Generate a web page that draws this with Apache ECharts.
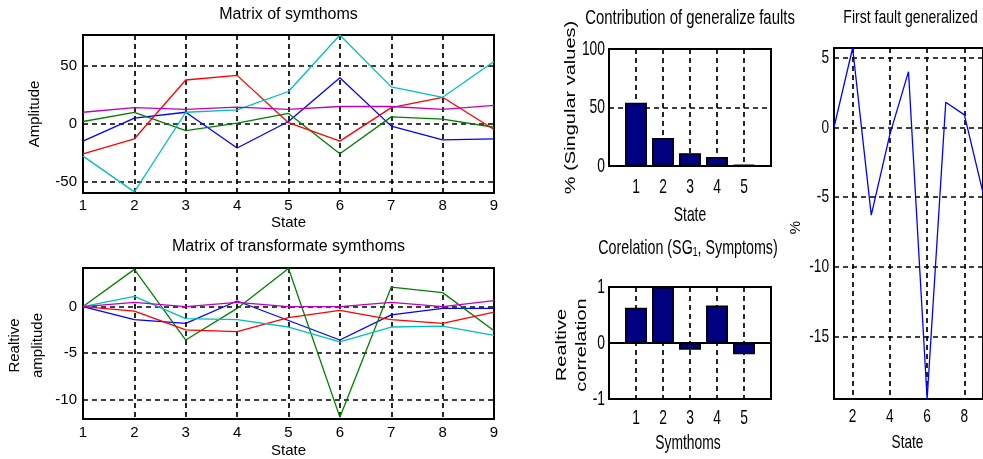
<!DOCTYPE html>
<html><head><meta charset="utf-8">
<script src="https://cdn.jsdelivr.net/npm/echarts@6/dist/echarts.min.js"></script>
<style>html,body{margin:0;padding:0;background:#fff}#c{width:983px;height:459px}</style>
</head><body><div id="c"></div>
<script>
// ---- data ----
const states = [1, 2, 3, 4, 5, 6, 7, 8, 9];
const symBlue    = [-15, 5, 10, -21, 2, 40, -2, -14, -13];
const symGreen   = [2, 10, -6, 0.5, 9, -26, 6, 4, -3];
const symRed     = [-26, -13, 38, 42, 1, -15, 14, 23, -5];
const symCyan    = [-28, -59, 10, 12, 28, 77, 32, 23, 54];
const symMagenta = [10, 14, 12.5, 14.5, 12.5, 15, 15, 12.5, 16];

const trBlue    = [0, -1.4, -1.8, 0.6, -1.5, -3.6, -0.9, -0.2, -0.2];
const trGreen   = [0, 4.0, -3.6, -0.2, 4.1, -11.9, 2.1, 1.5, -2.6];
const trRed     = [0, -0.5, -2.5, -2.7, -1.2, -0.4, -1.4, -1.8, -0.6];
const trCyan    = [0, 1.1, -1.3, -1.4, -2.2, -3.8, -2.2, -2.1, -3.1];
const trMagenta = [0, 0.45, 0, 0.45, 0, 0, 0.45, 0, 0.65];

const barIdx = [1, 2, 3, 4, 5];
const contribution = [54, 24, 11, 7.7, 1.2];
const correlation = [0.63, 1.0, -0.12, 0.67, -0.2];
const firstFault = [0, 5.7, -6.3, -0.5, 4.0, -19.5, 1.8, 0.9, -4.7];

const ticks1Y = [-50, 0, 50];
const ticks2Y = [-10, -5, 0];
const ticks3Y = [0, 50, 100];
const ticks4Y = [-1, 0, 1];
const ticks5Y = [-15, -10, -5, 0, 5];
const ticks5X = [2, 4, 6, 8];

const titles = ['Matrix of symthoms', 'Matrix of transformate symthoms', 'Contribution of generalize faults', 'Corelation (SG\u2081, Symptoms)', 'First fault generalized'];

// ---- layout / style ----
const FONT = '"Liberation Sans", Arial, sans-serif';
const G = [
  {left: 83, top: 35, width: 411, height: 158},
  {left: 83, top: 268, width: 411, height: 151},
  {left: 609, top: 49, width: 162, height: 117},
  {left: 609, top: 287, width: 162, height: 112},
  {left: 834, top: 48, width: 153, height: 351}
];
const dashed = {show: true, lineStyle: {color: '#000', width: 1.7, type: [5, 4]}};
const pair = (xs, ys) => xs.map((x, i) => [x, ys[i]]);
const lbl = {fontSize: 15, fontFamily: FONT, color: '#000'};

function line(ax, ys, color) {
  return {type: 'line', xAxisIndex: ax, yAxisIndex: ax, data: pair(states, ys), showSymbol: false,
    lineStyle: {color, width: 1.3}, itemStyle: {color}, animation: false};
}
function bar(ax, ys) {
  return {type: 'bar', xAxisIndex: ax, yAxisIndex: ax, data: pair(barIdx, ys), barWidth: 22,
    itemStyle: {color: '#000080', borderColor: '#000', borderWidth: 1.5}, animation: false};
}
const C = {b: '#0000ff', g: '#008000', r: '#ff0000', c: '#00bfbf', m: '#bf00bf'};
const noLine = {show: false};

const option = {
  animation: false,
  grid: G.map(g => Object.assign({show: true, borderColor: '#000', borderWidth: 2, backgroundColor: '#fff'}, g)),
  xAxis: [
    {gridIndex: 0, type: 'value', min: 1, max: 9, interval: 1, axisLine: noLine, axisTick: {show: false}, splitLine: dashed, axisLabel: Object.assign({margin: 5}, lbl)},
    {gridIndex: 1, type: 'value', min: 1, max: 9, interval: 1, axisLine: noLine, axisTick: {show: false}, splitLine: dashed, axisLabel: Object.assign({margin: 6}, lbl)},
    {gridIndex: 2, type: 'value', min: 0, max: 6, interval: 1, axisLine: noLine, axisTick: {show: false}, splitLine: dashed, axisLabel: {show: false}},
    {gridIndex: 3, type: 'value', min: 0, max: 6, interval: 1, axisLine: {show: true, onZero: true, lineStyle: {color: '#000', width: 2}}, axisTick: {show: false}, splitLine: dashed, axisLabel: {show: false}},
    {gridIndex: 4, type: 'value', min: 1, max: 9, axisLine: noLine, axisTick: {show: false, customValues: ticks5X}, splitLine: dashed, axisLabel: {show: false, customValues: ticks5X}}
  ],
  yAxis: [
    {gridIndex: 0, type: 'value', min: -60, max: 77, axisLine: noLine, axisTick: {show: false, customValues: ticks1Y}, splitLine: dashed, axisLabel: Object.assign({margin: 6, customValues: ticks1Y}, lbl)},
    {gridIndex: 1, type: 'value', min: -12.1, max: 4.15, axisLine: noLine, axisTick: {show: false, customValues: ticks2Y}, splitLine: dashed, axisLabel: Object.assign({margin: 6, customValues: ticks2Y}, lbl)},
    {gridIndex: 2, type: 'value', min: 0, max: 100, interval: 50, axisLine: noLine, axisTick: {show: false}, splitLine: dashed, axisLabel: {show: false}},
    {gridIndex: 3, type: 'value', min: -1, max: 1, interval: 1, axisLine: noLine, axisTick: {show: false}, splitLine: {show: false}, axisLabel: {show: false}},
    {gridIndex: 4, type: 'value', min: -19.5, max: 5.7, axisLine: noLine, axisTick: {show: false, customValues: ticks5Y}, splitLine: dashed, axisLabel: {show: false, customValues: ticks5Y}}
  ],
  series: [
    line(0, symBlue, C.b), line(0, symGreen, C.g), line(0, symRed, C.r), line(0, symCyan, C.c), line(0, symMagenta, C.m),
    line(1, trBlue, C.b), line(1, trGreen, C.g), line(1, trRed, C.r), line(1, trCyan, C.c), line(1, trMagenta, C.m),
    bar(2, contribution), bar(3, correlation),
    {type: 'line', xAxisIndex: 4, yAxisIndex: 4, data: pair(states, firstFault), showSymbol: false,
     lineStyle: {color: '#0000ff', width: 1.3}, itemStyle: {color: '#0000ff'}, animation: false}
  ]
};

const chart = echarts.init(document.getElementById('c'), null, {renderer: 'canvas'});
chart.setOption(option);

// ---- text (titles, axis names, scaled tick labels) ----
const gfx = [];
function txt(text, x, y, o) {
  o = o || {};
  const size = o.size || 15;
  const st = {text, fill: '#000', font: size + 'px ' + FONT, align: o.align || 'center', verticalAlign: o.va || 'middle',
    textAlign: o.align || 'center', textVerticalAlign: o.va || 'middle'};
  if (o.lh) st.lineHeight = o.lh;
  gfx.push({type: 'text', x, y, rotation: o.rot || 0, scaleX: o.sx || 1, scaleY: o.sy || 1, silent: true, z: 100, style: st});
}
const cx = i => G[i].left + G[i].width / 2;
const cy = i => G[i].top + G[i].height / 2;
const bot = i => G[i].top + G[i].height;
const R = Math.PI / 2;

// left panels
txt(titles[0], cx(0), G[0].top - 20, {size: 16});
txt('Amplitude', G[0].left - 48, cy(0), {rot: R});
txt('State', cx(0), bot(0) + 30);
txt(titles[1], cx(1), G[1].top - 21, {size: 16});
txt('Realtive\namplitude', G[1].left - 57, cy(1) + 2, {rot: R, lh: 23});
txt('State', cx(1), bot(1) + 32);

// middle panels (horizontally condensed look)
const MS = 21, MX = 0.66;
txt(titles[2], cx(2), G[2].top - 31, {size: MS, sx: 0.71});
ticks3Y.forEach(v => { const p = chart.convertToPixel({gridIndex: 2}, [0, v]); txt(String(v), G[2].left - 4, p[1], {size: MS, sx: MX, align: 'right'}); });
barIdx.forEach(v => { const p = chart.convertToPixel({gridIndex: 2}, [v, 0]); txt(String(v), p[0], bot(2) + 21, {size: MS, sx: MX}); });
txt('State', cx(2), bot(2) + 49, {size: MS, sx: MX});
txt('% (Singular values)', G[2].left - 38, cy(2), {size: 20, rot: R, sy: 0.7});

txt(titles[3], cx(3) - 2, G[3].top - 39, {size: MS, sx: 0.68});
ticks4Y.forEach(v => { const p = chart.convertToPixel({gridIndex: 3}, [0, v]); txt(String(v), G[3].left - 4, p[1], {size: MS, sx: MX, align: 'right'}); });
barIdx.forEach(v => { const p = chart.convertToPixel({gridIndex: 3}, [v, -1]); txt(String(v), p[0], bot(3) + 19, {size: MS, sx: MX}); });
txt('Symthoms', cx(3) - 2, bot(3) + 44, {size: MS, sx: MX});
txt('Realtive\ncorrelation', G[3].left - 37, cy(3) + 2, {size: 20, rot: R, sy: 0.7, lh: 29});

// right panel
const RS = 19, RX = 0.72;
txt(titles[4], cx(4), G[4].top - 30, {size: RS, sx: 0.74});
ticks5Y.forEach(v => { const p = chart.convertToPixel({gridIndex: 4}, [1, v]); txt(String(v), G[4].left - 5, p[1], {size: RS, sx: RX, align: 'right'}); });
ticks5X.forEach(v => { const p = chart.convertToPixel({gridIndex: 4}, [v, -19.5]); txt(String(v), p[0], bot(4) + 18, {size: RS, sx: RX}); });
txt('State', cx(4) - 3, bot(4) + 44, {size: RS, sx: RX});
txt('%', G[4].left - 38, cy(4) + 4, {size: 15, rot: R});

chart.setOption({graphic: {elements: gfx}});
</script>
</body></html>
